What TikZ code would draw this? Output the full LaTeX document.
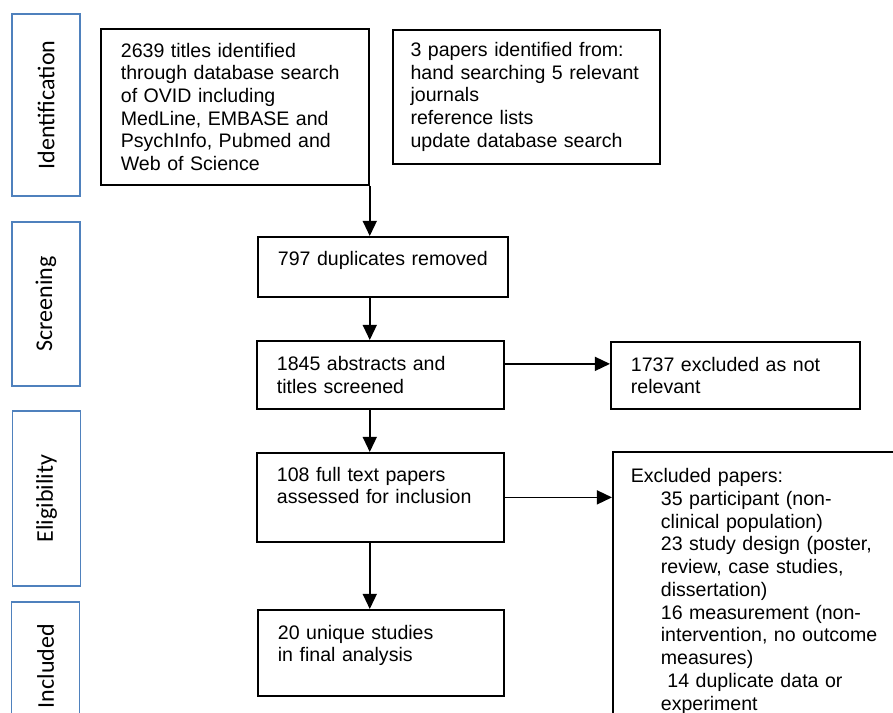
\documentclass[tikz,border=0pt]{standalone}
\usepackage{fontspec}
\setmainfont{Liberation Sans}
\newfontfamily\stagefont{Carlito}
\usetikzlibrary{arrows.meta,positioning}
\definecolor{stageblue}{HTML}{4F81BD}
\newcommand{\exind}{\hspace*{0.9cm}}

\begin{document}
\begin{tikzpicture}[
  x=0.03cm,y=-0.03cm,
  font=\fontsize{16.7}{19.4}\selectfont,
  box/.style={draw=black,line width=1.5pt,align=left,anchor=north west,
    inner xsep=0.6cm,inner ysep=4pt,text width=#1},
  stage/.style={draw=stageblue,line width=1.4pt,rotate=90,inner sep=0pt,
    minimum width=#1,minimum height=2.04cm,
    font=\stagefont\fontsize{20.5}{24}\selectfont},
  flow/.style={-{Triangle[length=13pt,width=12pt]},draw=black,line width=1.5pt}
]
\useasboundingbox (0,0) rectangle (893,713);
\clip (0,0) rectangle (893,713);

% stages down the left side
\node[stage=5.46cm] (ident) at (46,105) {Identification};
\node[stage=4.92cm] (screen) at (46,304) {Screening};
\node[stage=5.25cm] (elig) at (46.5,498.5) {Eligibility};
\node[stage=3.84cm] (incl) at (45.5,666) {Included};

\node[box=6.84cm,minimum height=4.68cm] (search) at (100,28) {
  2639 titles identified\\
  through database search\\
  of OVID including\\
  MedLine, EMBASE and\\
  PsychInfo, Pubmed and\\
  Web of Science
};
\node[box=6.95cm,inner xsep=0.53cm,minimum height=4.02cm] (other) at (392,29) {
  3 papers identified from:\\
  hand searching 5 relevant\\
  journals\\
  reference lists\\
  update database search
};
\node[box=6.3cm,minimum height=1.8cm,text depth=0.5cm] (dup) at (257,236) {797 duplicates removed};
\node[box=6.21cm,minimum height=2.04cm] (screened) at (256,340) {
  1845 abstracts and\\
  titles screened
};
\node[box=6.27cm,minimum height=2.01cm] (notrel) at (610,341) {
  1737 excluded as not\\
  relevant
};
\node[box=6.21cm,minimum height=2.67cm,text depth=1.4cm] (full) at (256,452) {
  108 full text papers\\
  assessed for inclusion
};
\node[box=7.71cm,inner xsep=0.54cm,minimum height=8.37cm] (excluded) at (612,451) {
  Excluded papers:\\
  \exind 35 participant (non-\\
  \exind clinical population)\\
  \exind 23 study design (poster,\\
  \exind review, case studies,\\
  \exind dissertation)\\
  \exind 16 measurement (non-\\
  \exind intervention, no outcome\\
  \exind measures)\\
  \exind\ 14 duplicate data or\\
  \exind experiment
};
\node[box=6.18cm,minimum height=2.58cm,text depth=1.25cm] (final) at (257,609) {
  20 unique studies\\
  in final analysis
};

\draw[flow] (search.south east) -- (search.south east |- dup.north);
\draw[flow] (dup.south -| search.south east) -- (screened.north -| search.south east);
\draw[flow] ([yshift=0.33cm]screened.east) -- ([yshift=0.33cm]screened.east -| notrel.west);
\draw[flow] (screened.south -| search.south east) -- (full.north -| search.south east);
\draw[flow] (full.east) -- (full.east -| excluded.west);
\draw[flow] (full.south -| search.south east) -- (final.north -| search.south east);

\end{tikzpicture}
\end{document}
